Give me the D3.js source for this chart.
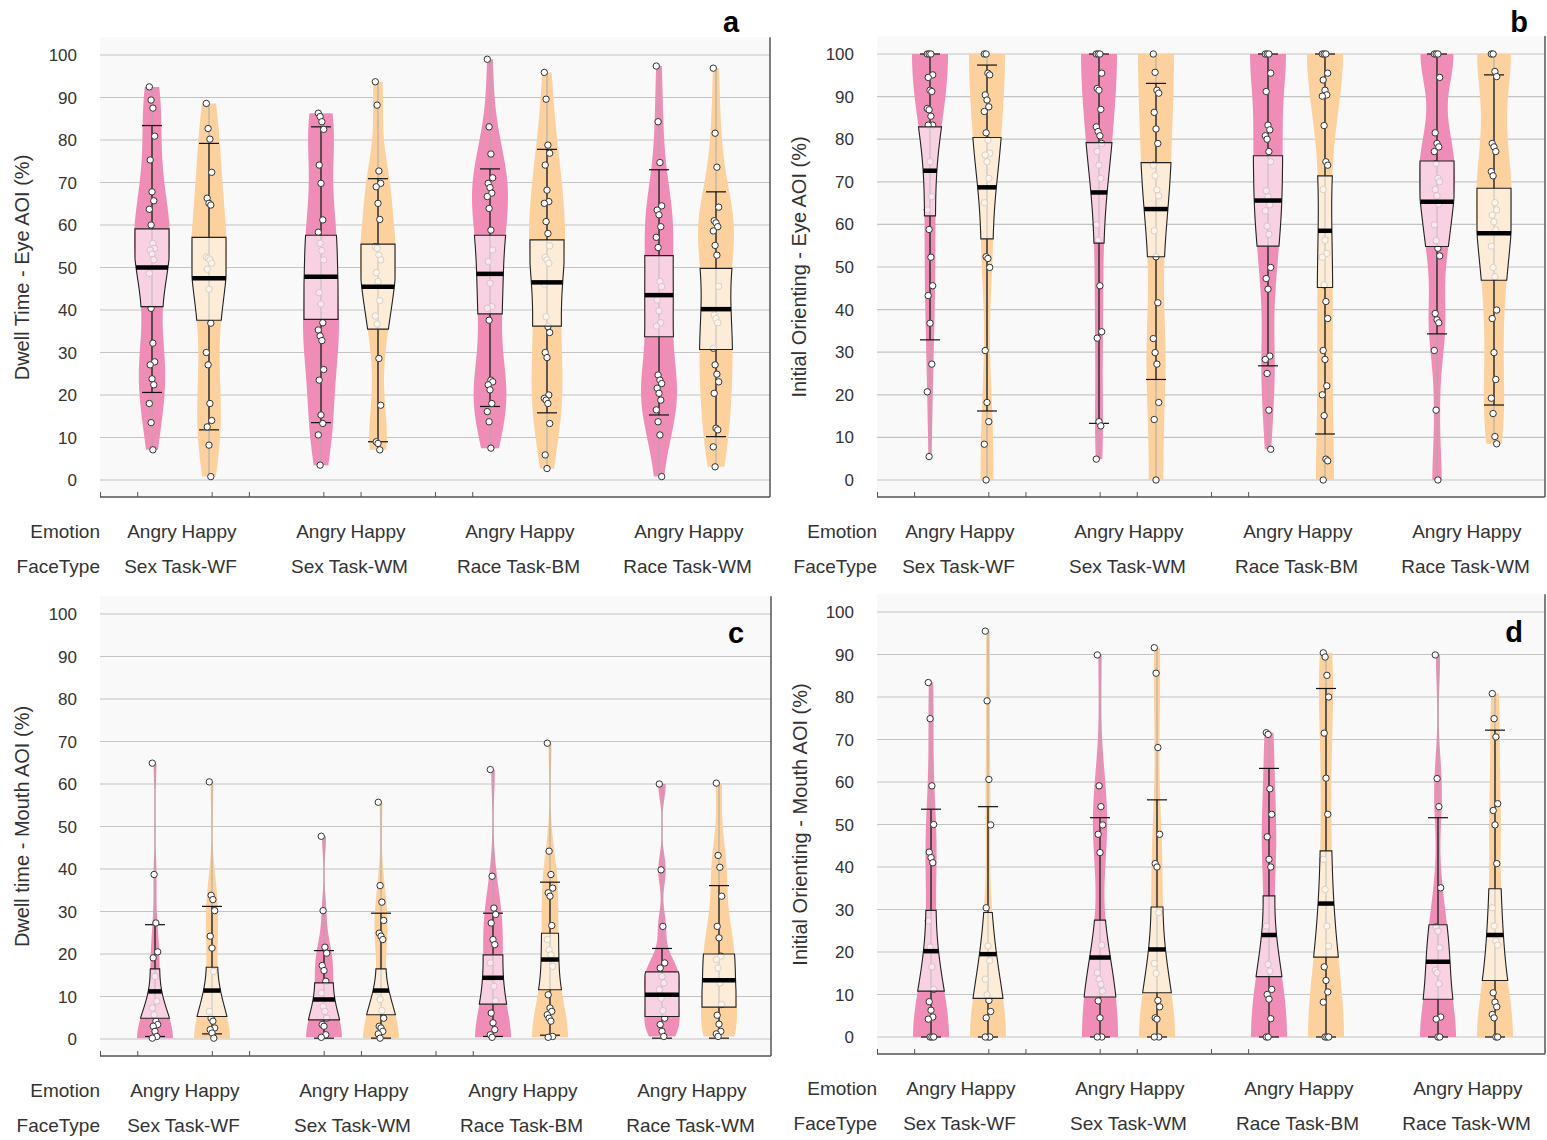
<!DOCTYPE html>
<html>
<head>
<meta charset="utf-8">
<script src="https://cdn.jsdelivr.net/npm/d3@7"></script>
<style>
  body { margin: 0; background: #fff; }
  svg { display: block; font-family: 'Liberation Sans', Arial, sans-serif; }
</style>
</head>
<body>
<script>
// categories
const faceTypes = ['Sex Task-WF', 'Sex Task-WM', 'Race Task-BM', 'Race Task-WM']
const emotions = ['Angry', 'Happy']
const yTicks = [0, 10, 20, 30, 40, 50, 60, 70, 80, 90, 100]

// order of every list below: WF-Angry, WF-Happy, WM-Angry, WM-Happy, BM-Angry, BM-Happy, RWM-Angry, RWM-Happy
// box = [lower whisker, Q1, median, Q3, upper whisker]

// a: dwell time, eye AOI
const eyeDwellPoints = [
    [92.5, 89.4, 87.5, 80.9, 75.3, 67.8, 65.7, 63.7, 60, 55.7, 54.5, 54.1, 53.2, 51.8, 48.6, 40.4, 32.2, 27.8, 27.1, 23.8, 22.4, 18, 13.5, 7.1],
    [88.6, 82.7, 80.2, 72.4, 66.3, 65.1, 64.7, 52.5, 52.2, 51.8, 51, 49.6, 44.9, 36.9, 30, 27.1, 18, 14, 12.5, 8.2, 0.8],
    [86.3, 85.5, 84.3, 82.5, 74.1, 69.8, 61.2, 58.3, 55.7, 54, 51.8, 44.1, 41.4, 37, 35.3, 33.9, 32.8, 26, 23.5, 15.3, 13.3, 10.6, 3.5],
    [93.7, 88.2, 72.7, 69.8, 69, 65.1, 61.3, 54.9, 54.5, 52.9, 51.8, 48.8, 46.7, 42.2, 38.6, 36.7, 28.6, 17.6, 9, 8.6, 7.1],
    [99, 83.1, 76.7, 71.1, 69.8, 68.8, 67.5, 66.7, 63.9, 58.8, 54.1, 51.4, 46.3, 40.8, 40.4, 37.6, 23.5, 23.1, 22.4, 21.2, 18, 16.1, 13.7, 7.5],
    [95.9, 89.6, 78.8, 76.9, 74.1, 68.2, 65.5, 65.1, 60.8, 58, 55.1, 52.4, 51.8, 51, 46.1, 38.4, 36.1, 34.7, 30, 28.8, 20, 19.2, 18.8, 18, 13.3, 5.9, 2.7],
    [97.4, 84.3, 74.7, 64.5, 63.5, 62.4, 59.6, 57.1, 54.7, 46.7, 45.5, 42.4, 39.8, 37, 36.2, 24.7, 23.5, 22.7, 21.6, 20.4, 18.8, 16.5, 13.7, 10.6, 0.8],
    [96.9, 81.6, 73.6, 64.2, 61, 60.5, 59.6, 58.6, 55.2, 52.9, 45.6, 38.8, 38, 37, 31, 27.1, 24.9, 23.1, 20.4, 12.2, 11.8, 7.8, 3.1]
]
const eyeDwellBox = [
    [20.6, 40.8, 50, 59.1, 83.4], [11.8, 37.6, 47.5, 57.1, 79.2],
    [13.5, 37.8, 47.8, 57.6, 83.1], [9, 35.5, 45.5, 55.5, 70.9],
    [17.3, 39.1, 48.5, 57.6, 73.2], [15.8, 36.2, 46.5, 56.5, 77.8],
    [15.3, 33.7, 43.5, 52.8, 73], [10.2, 30.7, 40.2, 49.8, 67.8]
]

// b: initial orienting, eye AOI
const eyeOrientPoints = [
    [100, 100, 100, 95.1, 94.5, 91.5, 91.2, 87.2, 86.9, 85.4, 83.3, 83.3, 74.7, 66.5, 63.4, 58.8, 52.3, 45.6, 43.3, 36.8, 27.2, 20.7, 5.5],
    [100, 100, 95.5, 95.1, 90.4, 89.2, 87.6, 86.5, 81.5, 79.8, 76.7, 76.3, 74.7, 70.8, 65.1, 52.4, 52, 49.9, 30.4, 18.2, 13.7, 8.4, 0],
    [100, 100, 100, 95.5, 91.9, 91.5, 87, 82.9, 81.8, 80.8, 79, 77.1, 73.9, 70.8, 59.9, 56.3, 45.6, 34.8, 33.3, 13.7, 12.7, 4.9],
    [100, 95.7, 91.5, 90.8, 86.3, 82.4, 79, 73.9, 71.4, 68.1, 66.7, 58.5, 52.4, 41.6, 33.2, 29.9, 27.2, 18.2, 14.2, 0],
    [100, 100, 100, 95.5, 91.2, 83.3, 82.2, 80.8, 80, 77.1, 74.7, 67.9, 66.5, 64.6, 63.2, 59.6, 57.7, 49.9, 47.3, 44.8, 29.1, 28.3, 25, 16.4, 7.2],
    [100, 100, 100, 95.5, 93.9, 91.5, 90.4, 90.1, 83.2, 74.7, 73.9, 68.2, 56.3, 53.2, 52.3, 45.8, 41.9, 37.9, 30.4, 28.3, 22.1, 20, 15.1, 4.9, 4.5, 0],
    [100, 100, 100, 94.5, 81.5, 79, 78.2, 77.1, 74.3, 70.8, 70, 68.2, 66.7, 64.8, 59.9, 56.2, 54.4, 52.6, 39.1, 37.6, 36.9, 30.4, 16.4, 0],
    [100, 100, 95.9, 94.7, 79, 78.2, 77.1, 72.4, 71.4, 65.1, 63.4, 62.2, 60.6, 58.7, 54.9, 49.9, 47.7, 39.9, 37.9, 29.9, 23.6, 19.2, 15.6, 10.2, 8.5]
]
const eyeOrientBox = [
    [32.9, 62, 72.6, 82.9, 100], [16.2, 56.6, 68.7, 80.4, 97.4],
    [13.3, 55.6, 67.5, 79.2, 100], [23.6, 52.4, 63.6, 74.5, 93.1],
    [26.8, 54.9, 65.6, 76.1, 100], [10.8, 45.2, 58.5, 71.4, 100],
    [34.3, 54.8, 65.3, 74.9, 100], [17.6, 46.9, 57.9, 68.5, 95.1]
]

// c: dwell time, mouth AOI
const mouthDwellPoints = [
    [64.9, 38.7, 27.3, 20.5, 19.1, 14.7, 8.9, 7.3, 5.7, 4.2, 3.4, 3, 1.8, 0.6, 0.2],
    [60.5, 33.8, 32.8, 30.2, 24.2, 21.4, 15.9, 6.5, 4.9, 4.2, 2.6, 2.2, 1.4, 0.2],
    [47.7, 30.2, 21.6, 20.2, 17.3, 16.1, 13.6, 10.8, 7.7, 6.5, 4.9, 3.4, 3, 1, 0.4],
    [55.7, 36.1, 32.2, 27.9, 24.9, 24.2, 23.4, 11.2, 9.3, 6.7, 4.9, 3, 2.6, 1.8, 1.2, 0.2],
    [63.4, 38.3, 30.8, 29.3, 27.3, 23.4, 22.2, 17.9, 14.4, 12.4, 9, 6.1, 3.8, 2.2, 1, 0.4],
    [69.6, 44.2, 38.7, 35.5, 34.4, 33.6, 26.7, 23.4, 21, 19.8, 17.1, 10.4, 7.3, 6.5, 5.7, 4.9, 4.2, 0.6, 0.4],
    [60, 39.8, 26.5, 17.9, 16.7, 14.7, 13.2, 11.6, 9.6, 6.7, 4.9, 3.4, 1.8, 0.6],
    [60.2, 43.2, 40.4, 33.6, 26.5, 23.8, 19.5, 18.7, 16.7, 13.2, 8.1, 5.6, 3.5, 1.8, 1.2, 0.6]
]
const mouthDwellBox = [
    [0.6, 4.9, 11.2, 16.5, 26.9], [1.2, 5.3, 11.4, 16.9, 31.2],
    [0.2, 4.5, 9.3, 13.2, 20.8], [0.2, 5.7, 11.4, 16.5, 29.6],
    [0.6, 8.2, 14.4, 19.8, 29.6], [0.9, 11.6, 18.7, 24.9, 36.9],
    [0.2, 5.3, 10.4, 15.8, 21.3], [0.2, 7.5, 13.8, 20, 36.1]
]

// d: initial orienting, mouth AOI
const mouthOrientPoints = [
    [83.4, 74.9, 59.1, 50, 43.5, 42.2, 41, 27.3, 21.2, 16.5, 11.2, 8.3, 6.3, 4.7, 4.2, 0, 0, 0],
    [95.5, 79.1, 60.6, 49.9, 30.4, 21.4, 18, 13.6, 9.9, 8.6, 6, 4.5, 0, 0, 0],
    [89.9, 59.1, 54.2, 49.9, 47.7, 43.4, 21.6, 15.1, 13.6, 12.4, 10.8, 8.5, 4.5, 0, 0],
    [91.6, 85.6, 68.1, 47.7, 40.8, 40, 29.3, 17.3, 15, 8.6, 7.1, 4.5, 4.2, 0, 0],
    [71.6, 71.2, 58.4, 52.4, 47.1, 41.8, 40, 26.1, 17.1, 15.5, 11.2, 10, 8.9, 4.3, 0, 0],
    [90.4, 89.4, 85.1, 80, 71.5, 60.9, 52.4, 41.8, 34.7, 26.1, 21.4, 16.5, 13.3, 10.6, 8.2, 0, 0, 0],
    [89.9, 60.8, 54.2, 35.1, 25.9, 24.9, 21, 15.7, 15.1, 12.5, 4.7, 4.2, 0, 0],
    [80.8, 74.9, 70.6, 54.9, 53.3, 49.9, 40.8, 30.4, 26.1, 22.6, 21.6, 10.4, 8.2, 7.1, 5.3, 4.5, 0, 0]
]
const mouthOrientBox = [
    [0, 10.8, 20.2, 29.8, 53.6], [0, 9.1, 19.5, 29.3, 54.2],
    [0, 9.4, 18.7, 27.5, 51.6], [0, 10.4, 20.6, 30.6, 55.8],
    [0, 14.2, 24, 33.2, 63.2], [0, 18.8, 31.4, 43.8, 82],
    [0, 8.9, 17.7, 26.4, 51.6], [0, 13.3, 24, 34.9, 72.2]
]

const violinColor = { Angry: '#ef8db7', Happy: '#fcd19d' }
const boxColor = { Angry: '#fae1eb', Happy: '#fdf2e5' }

const svg = d3.select('body').append('svg')
    .attr('width', 1547)
    .attr('height', 1140)

const panels = [
    { key: 'a', title: 'Dwell Time - Eye AOI (%)', points: eyeDwellPoints, box: eyeDwellBox,
      left: 100, right: 770, y100: 55, y0: 480, bandStart: 96, emoY: 538, faceY: 573, labelX: 731, labelY: 32, titleX: 22 },
    { key: 'b', title: 'Initial Orienting - Eye AOI (%)', points: eyeOrientPoints, box: eyeOrientBox,
      left: 877, right: 1545, y100: 54, y0: 480, bandStart: 874, emoY: 538, faceY: 573, labelX: 1519, labelY: 32, titleX: 799 },
    { key: 'c', title: 'Dwell time - Mouth AOI (%)', points: mouthDwellPoints, box: mouthDwellBox,
      left: 100, right: 771, y100: 614, y0: 1039, bandStart: 99, emoY: 1097, faceY: 1132, labelX: 736, labelY: 643, titleX: 22 },
    { key: 'd', title: 'Initial Orienting - Mouth AOI (%)', points: mouthOrientPoints, box: mouthOrientBox,
      left: 877, right: 1545, y100: 612, y0: 1037, bandStart: 875, emoY: 1095, faceY: 1130, labelX: 1514, labelY: 642, titleX: 800 }
]

const maxHalf = 18   // widest violin half width
const boxHalf = 17
const capHalf = 10

// gaussian kde; reflected at 0 / 100 only when the data piles up on that bound
function kde(values) {
    const sorted = values.slice().sort(d3.ascending)
    const sd = d3.deviation(values)
    const iqr = (d3.quantile(sorted, 0.75) - d3.quantile(sorted, 0.25)) / 1.34
    const h = 0.75 * 0.9 * Math.min(sd, iqr > 0 ? iqr : sd) * Math.pow(values.length, -0.2)
    const k = u => Math.exp(-0.5 * u * u)
    const reflectLo = sorted[0] <= 0.5
    const reflectHi = sorted[sorted.length - 1] >= 99.5
    return v => d3.sum(values, p => k((v - p) / h)
        + (reflectLo ? k((v + p) / h) : 0)
        + (reflectHi ? k((v - (200 - p)) / h) : 0))
}

panels.forEach(drawPanel)

function drawPanel(p) {
    const g = svg.append('g').attr('class', 'panel-' + p.key)

    const y = d3.scaleLinear().domain([0, 100]).range([p.y0, p.y100])
    const top = y(104.2), bottom = y(-4)

    const xGroup = d3.scaleBand().domain(faceTypes).range([p.bandStart, p.bandStart + 169 * 4])
    const xEmo = d3.scalePoint().domain(emotions).range([56, 113])
    const cx = i => xGroup(faceTypes[Math.floor(i / 2)]) + xEmo(emotions[i % 2])

    // background + grid
    g.append('rect')
        .attr('x', p.left).attr('y', top)
        .attr('width', p.right - p.left).attr('height', bottom - top)
        .attr('fill', '#f9f9f9')

    g.selectAll('.grid').data(yTicks).enter().append('line')
        .attr('class', 'grid')
        .attr('x1', p.left).attr('x2', p.right)
        .attr('y1', d => y(d)).attr('y2', d => y(d))
        .attr('stroke', '#c4c4c4').attr('stroke-width', 1.2)

    // y axis labels
    g.selectAll('.ytick').data(yTicks).enter().append('text')
        .attr('x', p.left - 23).attr('y', d => y(d) + 6)
        .attr('text-anchor', 'end')
        .attr('font-size', 17).attr('fill', '#333')
        .text(d => d)

    g.append('text')
        .attr('transform', `translate(${p.titleX},${(y(0) + y(100)) / 2}) rotate(-90)`)
        .attr('text-anchor', 'middle').attr('dy', '0.35em')
        .attr('font-size', 20).attr('fill', '#333')
        .text(p.title)

    // right border + bottom axis with the odd JMP ticks
    g.append('line')
        .attr('x1', p.right).attr('x2', p.right).attr('y1', top).attr('y2', bottom)
        .attr('stroke', '#555').attr('stroke-width', 1.5)

    const xTick = d3.scaleLinear().domain([0, 18]).range([p.left, p.right])
    g.append('g')
        .attr('transform', `translate(0,${bottom})`)
        .call(d3.axisTop(xTick).tickValues([0, 1, 3, 4, 6, 7, 9, 10]).tickSize(5).tickFormat(''))
        .call(ax => ax.select('.domain').attr('stroke', '#555').attr('stroke-width', 1.5).attr('d', `M${p.left},0H${p.right}`))
        .call(ax => ax.selectAll('.tick line').attr('stroke', '#555'))

    // violins
    p.points.forEach((vals, i) => {
        const emo = emotions[i % 2]
        const x0 = cx(i)
        const [wLo, q1, med, q3, wHi] = p.box[i]
        const lo = d3.min(vals), hi = d3.max(vals)
        const dens = kde(vals)
        const steps = d3.range(lo, hi, 0.25).concat([hi])
        const dmax = d3.max(steps, dens)
        const w = d3.scaleLinear().domain([0, dmax]).range([0, maxHalf])
        const half = v => w(dens(v))

        const area = d3.area()
            .x0(d => x0 - d[1]).x1(d => x0 + d[1])
            .y(d => y(d[0]))

        g.append('path')
            .datum(steps.map(v => [v, Math.max(half(v), 0.6)]))
            .attr('d', area)
            .attr('fill', violinColor[emo])

        // centre line over full range
        g.append('line')
            .attr('x1', x0).attr('x2', x0).attr('y1', y(lo)).attr('y2', y(hi))
            .attr('stroke', '#aaa').attr('stroke-width', 1)

        // whiskers
        g.append('line')
            .attr('x1', x0).attr('x2', x0).attr('y1', y(wLo)).attr('y2', y(wHi))
            .attr('stroke', '#111').attr('stroke-width', 1.2)
        g.selectAll(null).data([wLo, wHi]).enter().append('line')
            .attr('x1', x0 - capHalf).attr('x2', x0 + capHalf)
            .attr('y1', d => y(d)).attr('y2', d => y(d))
            .attr('stroke', '#111').attr('stroke-width', 1.2)

        // points with a small fixed jitter
        g.selectAll(null).data(vals).enter().append('circle')
            .attr('cx', (d, j) => x0 + ((j * 37) % 7 - 3) * 0.9)
            .attr('cy', d => y(d))
            .attr('r', 3.2)
            .attr('fill', '#fff')
            .attr('stroke', '#333').attr('stroke-width', 1)

        // box clipped to the violin outline
        const bSteps = d3.range(q1, q3, 0.25).concat([q3])
        const boxPts = bSteps.map(v => [v, Math.min(boxHalf, half(v))])
        g.append('path')
            .datum(boxPts)
            .attr('d', area)
            .attr('fill', boxColor[emo]).attr('fill-opacity', 0.82)
        const outline = boxPts.map(d => [x0 - d[1], y(d[0])])
            .concat(boxPts.slice().reverse().map(d => [x0 + d[1], y(d[0])]))
        g.append('path')
            .attr('d', d3.line()(outline) + 'Z')
            .attr('fill', 'none')
            .attr('stroke', '#222').attr('stroke-width', 1.1)

        // median
        const mh = Math.min(boxHalf, half(med))
        g.append('line')
            .attr('x1', x0 - mh).attr('x2', x0 + mh)
            .attr('y1', y(med)).attr('y2', y(med))
            .attr('stroke', '#000').attr('stroke-width', 4.5)
    })

    // category labels
    g.append('text').attr('x', p.left).attr('y', p.emoY)
        .attr('text-anchor', 'end').attr('font-size', 19).attr('fill', '#333').text('Emotion')
    g.append('text').attr('x', p.left).attr('y', p.faceY)
        .attr('text-anchor', 'end').attr('font-size', 19).attr('fill', '#333').text('FaceType')

    g.selectAll('.emo').data(d3.range(8)).enter().append('text')
        .attr('x', i => cx(i)).attr('y', p.emoY)
        .attr('text-anchor', 'middle').attr('font-size', 19).attr('fill', '#333')
        .text(i => emotions[i % 2])

    g.selectAll('.face').data(faceTypes).enter().append('text')
        .attr('x', d => xGroup(d) + (56 + 113) / 2)
        .attr('y', p.faceY)
        .attr('text-anchor', 'middle').attr('font-size', 19).attr('fill', '#333')
        .text(d => d)

    // panel letter
    g.append('text').attr('x', p.labelX).attr('y', p.labelY)
        .attr('text-anchor', 'middle').attr('font-size', 29).attr('font-weight', 'bold')
        .attr('fill', '#000').text(p.key)
}
</script>
</body>
</html>
